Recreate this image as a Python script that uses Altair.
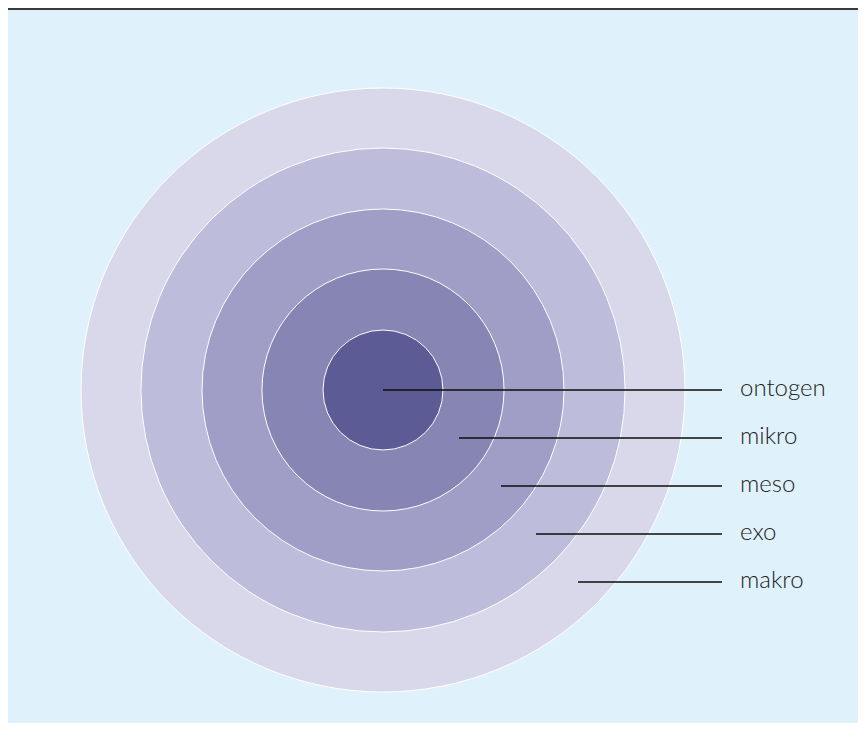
import math
import altair as alt
import pandas as pd

# Rings (outer radius in px-units, measured from the centre)
rings = ["makro", "exo", "meso", "mikro", "ontogen"]
ring_radius = [302, 242, 181, 121, 60]
ring_color = ["#d9d8ea", "#bdbcdb", "#a09ec7", "#8785b4", "#5c5b96"]

# Leader lines (relative to circle centre, y downward)
labels = ["ontogen", "mikro", "meso", "exo", "makro"]
line_x_start = [0, 76, 118, 153, 195]
line_y = [0, 48, 96, 144, 192]
line_x_end = [339, 339, 339, 339, 339]
label_x = [357, 357, 357, 357, 357]

W, H = 850, 715
xdom = [-375, 475]
ydom = [-382, 333]

xs = alt.Scale(domain=xdom, nice=False, zero=False)
ys = alt.Scale(domain=ydom, nice=False, zero=False, reverse=True)

rings_df = pd.DataFrame({
    "ring": rings, "r": ring_radius, "color": ring_color,
    "cx": [0] * 5, "cy": [0] * 5,
})
lines_df = pd.DataFrame({
    "label": labels, "x0": line_x_start, "x1": line_x_end,
    "y": line_y, "lx": label_x,
})
top_df = pd.DataFrame({"y": [ydom[0] + 1]})

discs = alt.Chart(rings_df).mark_arc(
    theta=0, theta2=2 * math.pi, stroke="white", strokeWidth=1
).encode(
    x=alt.X("cx:Q", scale=xs, axis=None),
    y=alt.Y("cy:Q", scale=ys, axis=None),
    radius=alt.Radius("r:Q", scale=None, stack=False),
    color=alt.Color("color:N", scale=None),
    order=alt.Order("r:Q", sort="descending"),
)

leaders = alt.Chart(lines_df).mark_rule(color="#0d0d0d", strokeWidth=1.5).encode(
    x=alt.X("x0:Q", scale=xs, axis=None),
    x2="x1:Q",
    y=alt.Y("y:Q", scale=ys, axis=None),
)

texts = alt.Chart(lines_df).mark_text(
    align="left", baseline="middle", font="Lato", fontSize=24, fontWeight=300,
    color="#222222", dy=-1
).encode(
    x=alt.X("lx:Q", scale=xs, axis=None),
    y=alt.Y("y:Q", scale=ys, axis=None),
    text="label:N",
)

top_line = alt.Chart(top_df).mark_rule(color="#3a3a3a", strokeWidth=2).encode(
    y=alt.Y("y:Q", scale=ys, axis=None),
)

chart = alt.layer(discs, leaders, texts, top_line).properties(
    width=W, height=H, padding=0, autosize=alt.AutoSizeParams(type="none"),
    background="white",
).configure_view(fill="#dff1fb", stroke=None)

chart.save("out.html", embed_options={"renderer": "svg", "actions": False})
